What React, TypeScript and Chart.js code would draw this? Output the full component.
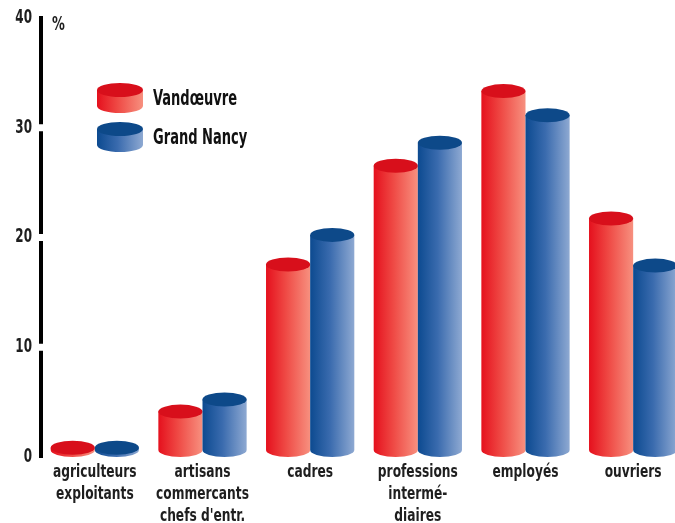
import React, { useEffect, useRef } from "react";
import { Chart, registerables } from "chart.js";

Chart.register(...registerables);

const categories: string[][] = [
  ["agriculteurs", "exploitants"],
  ["artisans", "commercants", "chefs d'entr."],
  ["cadres"],
  ["professions", "intermé-", "diaires"],
  ["employés"],
  ["ouvriers"],
];
const seriesNames = ["Vandœuvre", "Grand Nancy"];
const vandoeuvre = [0.2, 3.5, 16.9, 25.9, 32.7, 21.1];
const grandNancy = [0.2, 4.6, 19.6, 28.0, 30.5, 16.8];
const yTicks = [0, 10, 20, 30, 40];
const unitLabel = "%";

const FONT = "'DejaVu Sans Condensed', 'DejaVu Sans', sans-serif";

const palette = [
  { left: "#e5101d", mid: "#ef4a45", right: "#f7907f", top: "#d80f1b" },
  { left: "#0c4a90", mid: "#3a6bae", right: "#8ea9d2", top: "#0d4989" },
];

function drawCylinder(
  ctx: CanvasRenderingContext2D,
  cx: number,
  w: number,
  topY: number,
  baseY: number,
  ry: number,
  c: { left: string; mid: string; right: string; top: string }
) {
  const left = cx - w / 2;
  const right = cx + w / 2;
  const topC = topY - ry;
  const botC = baseY - ry;
  const g = ctx.createLinearGradient(left, 0, right, 0);
  g.addColorStop(0, c.left);
  g.addColorStop(0.45, c.mid);
  g.addColorStop(1, c.right);
  ctx.save();
  ctx.fillStyle = g;
  ctx.beginPath();
  ctx.moveTo(left, topC);
  ctx.lineTo(left, botC);
  ctx.ellipse(cx, botC, w / 2, ry, 0, Math.PI, 0, true);
  ctx.lineTo(right, topC);
  ctx.closePath();
  ctx.fill();
  ctx.fillStyle = c.top;
  ctx.beginPath();
  ctx.ellipse(cx, topC, w / 2, ry, 0, 0, Math.PI * 2);
  ctx.fill();
  ctx.restore();
}

function drawText(
  ctx: CanvasRenderingContext2D,
  text: string,
  x: number,
  y: number,
  align: CanvasTextAlign,
  sx: number,
  font: string,
  color: string
) {
  ctx.save();
  ctx.font = font;
  ctx.fillStyle = color;
  ctx.textBaseline = "middle";
  ctx.textAlign = align;
  ctx.translate(x, y);
  ctx.scale(sx, 1);
  ctx.fillText(text, 0, 0);
  ctx.restore();
}

const cylinderPlugin = {
  id: "cylinders",
  afterDatasetsDraw(chart: any) {
    const ctx = chart.ctx as CanvasRenderingContext2D;
    chart.data.datasets.forEach((ds: any, i: number) => {
      const meta = chart.getDatasetMeta(i);
      meta.data.forEach((el: any) => {
        const p = el.getProps(["x", "y", "base", "width"], true);
        drawCylinder(ctx, p.x, p.width, p.y, p.base, 7, palette[i]);
      });
    });
  },
  afterDraw(chart: any) {
    const ctx = chart.ctx as CanvasRenderingContext2D;
    const ys = chart.scales.y;
    const xs = chart.scales.x;
    const area = chart.chartArea;
    ctx.save();
    // gaps in the axis line at inner ticks
    ctx.fillStyle = "#ffffff";
    yTicks.forEach((t) => {
      if (t === yTicks[0] || t === yTicks[yTicks.length - 1]) return;
      const py = ys.getPixelForValue(t);
      ctx.fillRect(area.left - 4, py - 3.5, 9, 7);
    });
    ctx.restore();
    // y tick labels
    yTicks.forEach((t) => {
      const py = ys.getPixelForValue(t);
      drawText(ctx, String(t), area.left - 9, py, "right", 0.7, `bold 19px ${FONT}`, "#1e1e1e");
    });
    // x category labels
    categories.forEach((lines, i) => {
      const px = xs.getPixelForTick(i);
      lines.forEach((ln, j) => {
        drawText(ctx, ln, px, area.bottom + 16 + j * 22, "center", 0.8, `bold 17px ${FONT}`, "#1e1e1e");
      });
    });
    // unit label
    drawText(ctx, unitLabel, 52, ys.getPixelForValue(yTicks[yTicks.length - 1]) + 7, "left", 0.75, `bold 19px ${FONT}`, "#1e1e1e");
    // legend
    const legendX = 120;
    const legendW = 46;
    const rows = [106, 145];
    chart.data.datasets.forEach((ds: any, i: number) => {
      const base = rows[i] + 7;
      drawCylinder(ctx, legendX, legendW, base - 16, base, 7, palette[i]);
      drawText(ctx, ds.label, 153, rows[i] - 6, "left", 0.69, `bold 21px ${FONT}`, "#111");
    });
  },
};

export default function App() {
  const ref = useRef<HTMLCanvasElement>(null);
  useEffect(() => {
    document.body.style.overflow = "hidden";
    const chart = new Chart(ref.current!, {
      type: "bar",
      data: {
        labels: categories,
        datasets: [
          {
            label: seriesNames[0],
            data: vandoeuvre,
            backgroundColor: "rgba(0,0,0,0)",
            borderWidth: 0,
          },
          {
            label: seriesNames[1],
            data: grandNancy,
            backgroundColor: "rgba(0,0,0,0)",
            borderWidth: 0,
          },
        ],
      },
      options: {
        animation: false,
        responsive: false,
        events: [],
        layout: { padding: { top: 18, right: 3, left: 0, bottom: 0 } },
        datasets: { bar: { categoryPercentage: 0.82, barPercentage: 1 } },
        plugins: { legend: { display: false }, tooltip: { enabled: false } },
        scales: {
          x: {
            type: "category",
            offset: true,
            grid: { display: false },
            border: { display: false },
            ticks: { display: false },
            afterFit: (s: any) => {
              s.height = 66;
            },
          },
          y: {
            min: 0,
            max: 40,
            grid: { display: false },
            border: { display: true, color: "#000", width: 4 },
            afterBuildTicks: (s: any) => {
              s.ticks = yTicks.map((v) => ({ value: v }));
            },
            ticks: { display: false },
            afterFit: (s: any) => {
              s.width = 41;
            },
          },
        },
      } as any,
      plugins: [cylinderPlugin],
    });
    return () => chart.destroy();
  }, []);
  return (
    <div style={{ position: "fixed", left: 0, top: 0, width: 690, height: 523, background: "#fff" }}>
      <canvas ref={ref} width={690} height={523} style={{ display: "block" }} />
    </div>
  );
}
